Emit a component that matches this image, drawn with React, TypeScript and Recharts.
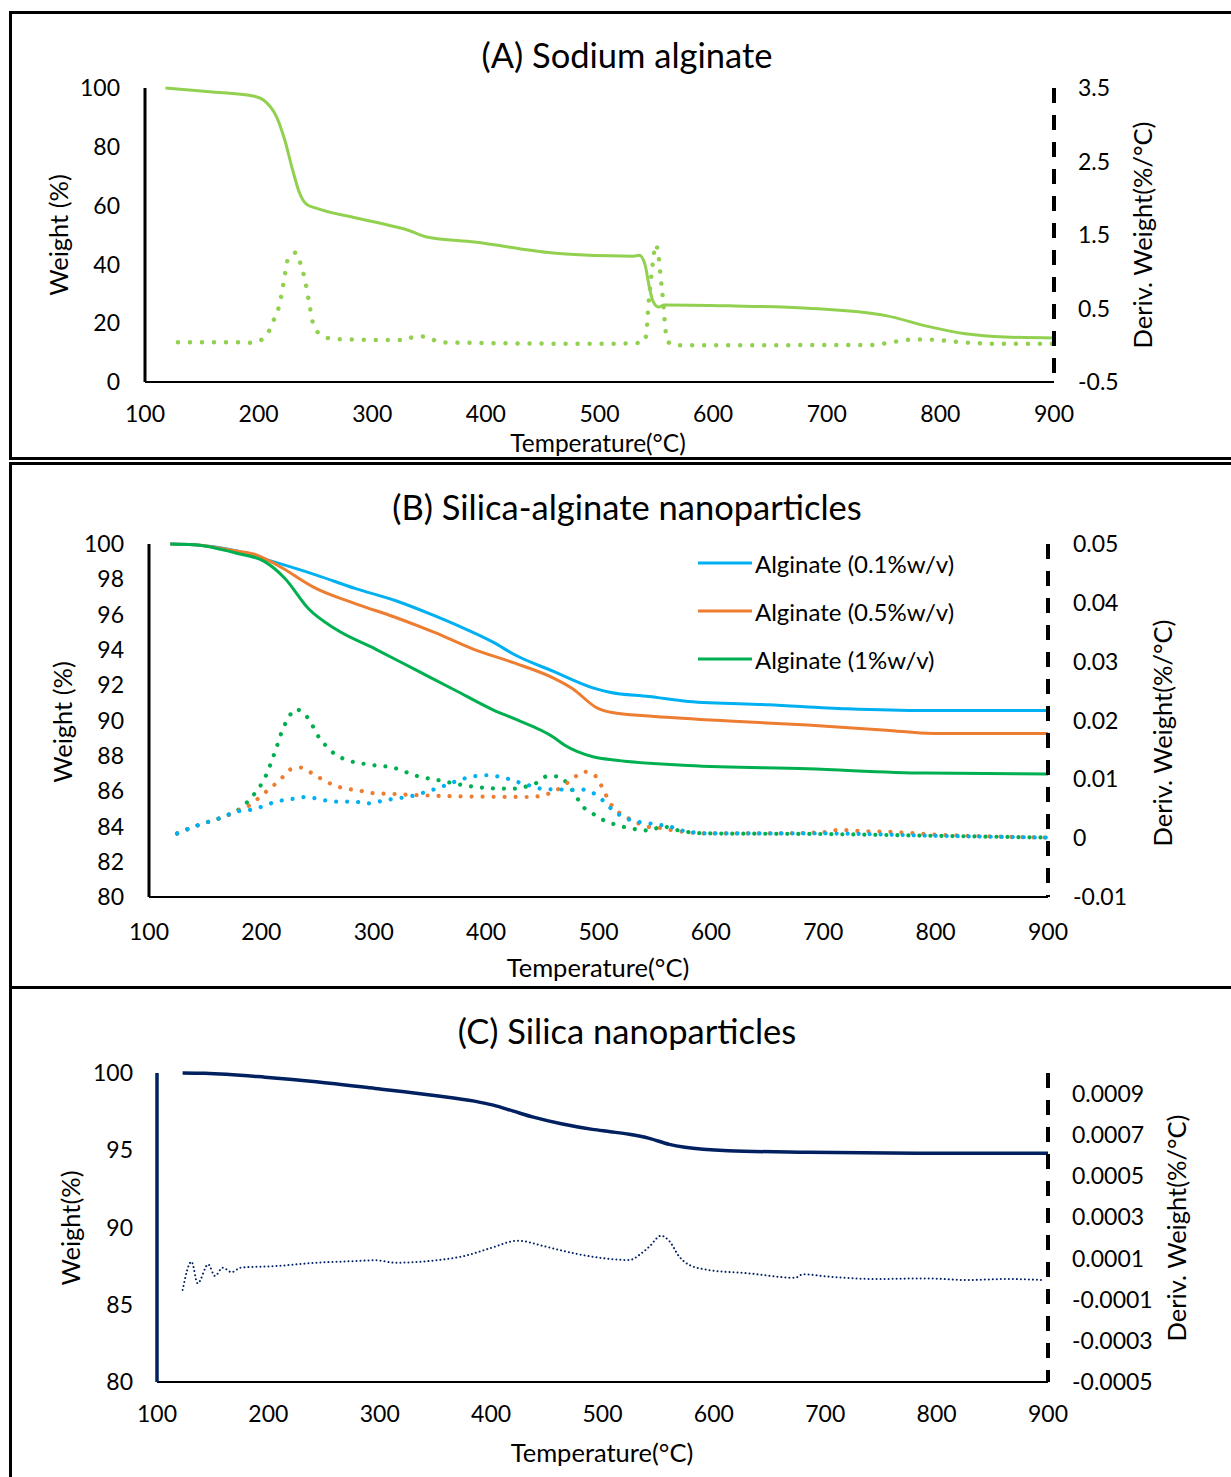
import React from "react";
import { ComposedChart, Line, XAxis, YAxis, Legend } from "recharts";

const FONT = "Lato, 'Gill Sans', 'Noto Sans', sans-serif";

// x axis
const tempTicks = [100, 200, 300, 400, 500, 600, 700, 800, 900];

// (A) sodium alginate
const aWeightT = [118, 157, 195, 204, 216, 223, 230, 236, 242, 250, 286, 320, 331, 348, 390, 459, 509, 530, 535, 540, 544, 547, 552, 557, 614, 683, 753, 787, 822, 857, 900];
const aWeight = [100, 98.7, 97.3, 96.0, 90.0, 82.3, 72.0, 64.3, 60.5, 59.2, 55.8, 52.8, 51.7, 49.3, 47.6, 43.9, 42.9, 42.8, 43.1, 40.0, 32.0, 27.6, 25.5, 26.2, 25.9, 25.1, 22.5, 19.1, 16.4, 15.3, 15.0];
const aDerivT = [129, 181, 194, 204, 210, 214, 218, 222, 226, 233, 237, 240, 244, 248, 254, 264, 274, 330, 337, 348, 359, 500, 532, 540, 541.5, 543, 545.5, 547.5, 549.5, 552, 554, 556, 558, 560, 567, 740, 760, 778, 798, 812, 836, 860, 900];
const aDeriv = [0.04, 0.04, 0.035, 0.09, 0.22, 0.37, 0.53, 0.85, 1.18, 1.26, 1.1, 0.94, 0.62, 0.29, 0.15, 0.09, 0.08, 0.07, 0.12, 0.12, 0.04, 0.02, 0.03, 0.06, 0.21, 0.53, 0.92, 1.2, 1.37, 1.21, 0.9, 0.6, 0.22, 0.05, 0.0, 0.005, 0.05, 0.08, 0.07, 0.05, 0.025, 0.02, 0.02];
const aLeftTicks = [0, 20, 40, 60, 80, 100];
const aRightTicks = [-0.5, 0.5, 1.5, 2.5, 3.5];

// (B) silica-alginate nanoparticles
const bBlueT = [119, 140, 178, 200, 249, 284, 319, 354, 375, 407, 425, 460, 495, 510, 545, 580, 651, 721, 791, 900];
const bBlue = [100, 99.96, 99.6, 99.2, 98.24, 97.47, 96.8, 95.94, 95.37, 94.41, 93.74, 92.78, 91.85, 91.6, 91.36, 91.08, 90.89, 90.66, 90.56, 90.56];
const bOrangeT = [119, 140, 178, 195, 214, 249, 284, 319, 354, 389, 425, 460, 477, 499, 512, 545, 616, 686, 756, 798, 900];
const bOrange = [100, 99.96, 99.6, 99.4, 98.81, 97.47, 96.61, 95.85, 94.99, 94.03, 93.26, 92.4, 91.8, 90.7, 90.45, 90.25, 89.97, 89.74, 89.45, 89.26, 89.26];
const bGreenT = [119, 140, 178, 203, 221, 242, 266, 302, 337, 372, 407, 425, 460, 470, 495, 516, 580, 686, 791, 900];
const bGreen = [100, 99.96, 99.48, 99.0, 98.05, 96.33, 95.18, 94.03, 92.88, 91.73, 90.58, 90.1, 89.05, 88.6, 87.95, 87.75, 87.45, 87.26, 87.02, 86.97];

const bBlueDT = [125, 145, 166, 177, 187, 198, 208, 218, 229, 240, 250, 261, 272, 283, 294, 304, 315, 326, 337, 347, 357, 368, 378, 389, 399, 410, 421, 432, 442, 452, 463, 474, 484, 495, 504, 512, 521, 530, 542, 553, 563, 574, 600, 700, 800, 900];
const bBlueD = [0.0008, 0.0023, 0.0036, 0.0045, 0.0047, 0.0052, 0.0059, 0.0064, 0.0067, 0.007, 0.0067, 0.0063, 0.0062, 0.0062, 0.0059, 0.0062, 0.0066, 0.0069, 0.0073, 0.0079, 0.0085, 0.0093, 0.01, 0.0105, 0.0107, 0.0105, 0.01, 0.0093, 0.0088, 0.0083, 0.0083, 0.0082, 0.0083, 0.0077, 0.0064, 0.0049, 0.0037, 0.003, 0.0026, 0.0023, 0.002, 0.0013, 0.0008, 0.0008, 0.0004, 0.0001];
const bOrangeDT = [125, 145, 166, 177, 192, 201, 210, 218, 226, 236, 246, 256, 266, 276, 287, 297, 319, 341, 380, 439, 449, 460, 468, 477, 487, 496, 502, 507, 512, 521, 532, 542, 556, 567, 600, 650, 700, 714, 735, 756, 800, 850, 900];
const bOrangeD = [0.0008, 0.0023, 0.0036, 0.0045, 0.0059, 0.0074, 0.0088, 0.0102, 0.0117, 0.012, 0.0109, 0.0098, 0.0089, 0.0084, 0.0081, 0.0077, 0.0075, 0.0073, 0.0071, 0.007, 0.0072, 0.0079, 0.0088, 0.0101, 0.0113, 0.0108, 0.0091, 0.0072, 0.0055, 0.004, 0.0029, 0.002, 0.0017, 0.0013, 0.0008, 0.0008, 0.001, 0.0014, 0.0012, 0.0011, 0.0006, 0.0003, 0.0001];
const bGreenDT = [125, 145, 166, 177, 192, 204, 212, 219, 224, 230, 239, 245, 251, 258, 266, 276, 296, 317, 338, 359, 380, 403, 424, 434, 445, 454, 464, 473, 479, 485, 494, 503, 512, 525, 546, 556, 574, 600, 700, 800, 900];
const bGreenD = [0.0008, 0.0023, 0.0036, 0.0045, 0.0071, 0.0106, 0.0146, 0.0185, 0.0204, 0.0219, 0.021, 0.0193, 0.0172, 0.0156, 0.0142, 0.0133, 0.0125, 0.012, 0.0106, 0.0098, 0.009, 0.0085, 0.0084, 0.0087, 0.0094, 0.0105, 0.0105, 0.0091, 0.0075, 0.0056, 0.0043, 0.0032, 0.0025, 0.0018, 0.0013, 0.002, 0.0012, 0.0008, 0.0007, 0.0004, 0.0001];
const bLeftTicks = [80, 82, 84, 86, 88, 90, 92, 94, 96, 98, 100];
const bRightTicks = [-0.01, 0, 0.01, 0.02, 0.03, 0.04, 0.05];

// (C) silica nanoparticles
const cWeightT = [123, 143, 197, 243, 296, 349, 385, 402, 420, 438, 463, 491, 507, 524, 542, 560, 574, 613, 684, 790, 900];
const cWeight = [100, 99.98, 99.73, 99.43, 99.0, 98.55, 98.18, 97.92, 97.53, 97.14, 96.71, 96.35, 96.2, 96.03, 95.77, 95.38, 95.19, 94.97, 94.87, 94.8, 94.8];
const cDerivT = [123, 131, 136.5, 146, 152, 159, 167, 175, 207, 243, 278, 296, 314, 349, 377, 399, 424, 449, 474, 502, 524, 535, 542, 552.5, 560, 569, 578, 595, 630, 673, 680, 702, 745, 791, 827, 862, 896];
const cDeriv = [-0.000053, 0.000084, -0.000021, 0.000071, 0.000015, 0.000055, 0.000033, 0.000055, 0.000063, 0.000079, 0.000087, 0.000091, 0.000079, 0.00009, 0.000113, 0.000149, 0.000186, 0.000157, 0.000125, 0.0001, 0.000092, 0.000125, 0.000157, 0.00021, 0.000184, 0.000108, 0.000068, 0.000044, 0.000028, 0.000006, 0.000023, 0.000012, 0.0, 0.000003, -0.000005, 0.0, -0.000005];
const cLeftTicks = [80, 85, 90, 95, 100];
const cRightTicks = [-0.0005, -0.0003, -0.0001, 0.0001, 0.0003, 0.0005, 0.0007, 0.0009];

const pts = (t: number[], v: number[]) => t.map((x, i) => ({ t: x, v: v[i] }));

const tickStyle = { fill: "#000", fontSize: 23, fontFamily: FONT };
const dashedAxis = { stroke: "#000", strokeWidth: 4, strokeDasharray: "15 12" };

function AxisTitle({ tx, ty, text, vertical, size = 25.5 }: { tx: number; ty: number; text: string; vertical?: boolean; size?: number }) {
  return (
    <text
      x={tx}
      y={ty}
      textAnchor="middle"
      fontSize={size}
      fontFamily={FONT}
      fill="#000"
      transform={vertical ? `rotate(-90 ${tx} ${ty})` : undefined}
    >
      {text}
    </text>
  );
}

function PanelTitle({ top, text }: { top: number; text: string }) {
  return (
    <div
      style={{
        position: "absolute",
        left: 0,
        width: 1254,
        top,
        textAlign: "center",
        fontFamily: FONT,
        fontSize: 34.5,
        lineHeight: "38px",
        color: "#000",
      }}
    >
      {text}
    </div>
  );
}

const renderLegend = (props: any) => {
  const items = (props.payload || []).filter((p: any) => p.type !== "none");
  return (
    <div style={{ fontFamily: FONT, fontSize: 24, color: "#000" }}>
      {items.map((p: any) => (
        <div key={p.value} style={{ display: "flex", alignItems: "center", height: 48 }}>
          <svg width={56} height={6} style={{ marginRight: 1 }}>
            <line x1={0} y1={3} x2={54} y2={3} stroke={p.color} strokeWidth={3} />
          </svg>
          <span>{p.value}</span>
        </div>
      ))}
    </div>
  );
};

function ChartA() {
  return (
    <ComposedChart width={1231} height={460} margin={{ top: 88, left: 65, right: 77, bottom: 8 }}>
      <XAxis
        dataKey="t"
        type="number"
        domain={[100, 900]}
        ticks={tempTicks}
        height={70}
        tickSize={0}
        tickMargin={24}
        tick={tickStyle}
        axisLine={{ stroke: "#000", strokeWidth: 2 }}
        label={<AxisTitle tx={598} ty={452} size={24.5} text="Temperature(°C)" />}
      />
      <YAxis
        yAxisId="w"
        domain={[0, 100]}
        ticks={aLeftTicks}
        width={80}
        tickSize={0}
        tickMargin={25}
        tick={tickStyle}
        axisLine={{ stroke: "#000", strokeWidth: 3 }}
        label={<AxisTitle tx={68} ty={235} text="Weight (%)" vertical />}
      />
      <YAxis
        yAxisId="d"
        orientation="right"
        domain={[-0.5, 3.5]}
        ticks={aRightTicks}
        width={100}
        tickSize={0}
        tickMargin={24}
        tick={{ ...tickStyle, textAnchor: "start" }}
        axisLine={dashedAxis}
        label={<AxisTitle tx={1152} ty={235} text="Deriv. Weight(%/°C)" vertical />}
      />
      <Line
        yAxisId="w"
        data={pts(aWeightT, aWeight)}
        dataKey="v"
        type="monotone"
        stroke="#92D050"
        strokeWidth={3}
        dot={false}
        activeDot={false}
        isAnimationActive={false}
      />
      <Line
        yAxisId="d"
        data={pts(aDerivT, aDeriv)}
        dataKey="v"
        type="monotone"
        stroke="#92D050"
        strokeWidth={4.5}
        strokeDasharray="0.01 12"
        strokeLinecap="round"
        dot={false}
        activeDot={false}
        isAnimationActive={false}
      />
    </ComposedChart>
  );
}

function ChartB() {
  const dotted = { strokeWidth: 4.2, strokeDasharray: "0.01 11", strokeLinecap: "round" as const };
  return (
    <ComposedChart width={1231} height={527} margin={{ top: 84, left: 69, right: 83, bottom: 10 }}>
      <XAxis
        dataKey="t"
        type="number"
        domain={[100, 900]}
        ticks={tempTicks}
        height={80}
        tickSize={0}
        tickMargin={27}
        tick={tickStyle}
        axisLine={{ stroke: "#000", strokeWidth: 2 }}
        label={<AxisTitle tx={598} ty={517} text="Temperature(°C)" />}
      />
      <YAxis
        yAxisId="w"
        domain={[80, 100]}
        ticks={bLeftTicks}
        width={80}
        tickSize={0}
        tickMargin={25}
        tick={tickStyle}
        axisLine={{ stroke: "#000", strokeWidth: 3 }}
        label={<AxisTitle tx={72} ty={262} text="Weight (%)" vertical />}
      />
      <YAxis
        yAxisId="d"
        orientation="right"
        domain={[-0.01, 0.05]}
        ticks={bRightTicks}
        width={100}
        tickSize={0}
        tickMargin={25}
        tick={{ ...tickStyle, textAnchor: "start" }}
        axisLine={dashedAxis}
        label={<AxisTitle tx={1172} ty={273} text="Deriv. Weight(%/°C)" vertical />}
      />
      <Legend
        layout="vertical"
        align="center"
        verticalAlign="middle"
        wrapperStyle={{ left: 698, top: 79, width: 300 }}
        content={renderLegend}
      />
      <Line yAxisId="d" legendType="none" data={pts(bGreenDT, bGreenD)} dataKey="v" type="monotone" stroke="#00B050" {...dotted} dot={false} activeDot={false} isAnimationActive={false} />
      <Line yAxisId="d" legendType="none" data={pts(bOrangeDT, bOrangeD)} dataKey="v" type="monotone" stroke="#ED7D31" {...dotted} dot={false} activeDot={false} isAnimationActive={false} />
      <Line yAxisId="d" legendType="none" data={pts(bBlueDT, bBlueD)} dataKey="v" type="monotone" stroke="#00B0F0" {...dotted} dot={false} activeDot={false} isAnimationActive={false} />
      <Line yAxisId="w" name="Alginate (0.1%w/v)" data={pts(bBlueT, bBlue)} dataKey="v" type="monotone" stroke="#00B0F0" strokeWidth={3} dot={false} activeDot={false} isAnimationActive={false} />
      <Line yAxisId="w" name="Alginate (0.5%w/v)" data={pts(bOrangeT, bOrange)} dataKey="v" type="monotone" stroke="#ED7D31" strokeWidth={3} dot={false} activeDot={false} isAnimationActive={false} />
      <Line yAxisId="w" name="Alginate (1%w/v)" data={pts(bGreenT, bGreen)} dataKey="v" type="monotone" stroke="#00B050" strokeWidth={3} dot={false} activeDot={false} isAnimationActive={false} />
    </ComposedChart>
  );
}

function ChartC() {
  return (
    <ComposedChart width={1231} height={490} margin={{ top: 86, left: 77, right: 73, bottom: 15 }}>
      <XAxis
        dataKey="t"
        type="number"
        domain={[100, 900]}
        ticks={tempTicks}
        height={80}
        tickSize={0}
        tickMargin={24}
        tick={tickStyle}
        axisLine={{ stroke: "#000", strokeWidth: 2 }}
        label={<AxisTitle tx={602} ty={475} text="Temperature(°C)" />}
      />
      <YAxis
        yAxisId="w"
        domain={[80, 100]}
        ticks={cLeftTicks}
        width={80}
        tickSize={0}
        tickMargin={24}
        tick={tickStyle}
        axisLine={{ stroke: "#002060", strokeWidth: 3.5 }}
        label={<AxisTitle tx={80} ty={241} text="Weight(%)" vertical />}
      />
      <YAxis
        yAxisId="d"
        orientation="right"
        domain={[-0.0005, 0.001]}
        ticks={cRightTicks}
        width={110}
        tickSize={0}
        tickMargin={24}
        tick={{ ...tickStyle, textAnchor: "start" }}
        axisLine={dashedAxis}
        label={<AxisTitle tx={1186} ty={241} text="Deriv. Weight(%/°C)" vertical />}
      />
      <Line
        yAxisId="w"
        data={pts(cWeightT, cWeight)}
        dataKey="v"
        type="monotone"
        stroke="#002060"
        strokeWidth={3.5}
        dot={false}
        activeDot={false}
        isAnimationActive={false}
      />
      <Line
        yAxisId="d"
        data={pts(cDerivT, cDeriv)}
        dataKey="v"
        type="monotone"
        stroke="#002060"
        strokeWidth={2}
        strokeDasharray="0.01 4"
        strokeLinecap="round"
        dot={false}
        activeDot={false}
        isAnimationActive={false}
      />
    </ComposedChart>
  );
}

const box = (top: number, height: number): React.CSSProperties => ({
  position: "absolute",
  left: 9,
  top,
  width: 1240,
  height,
  border: "3px solid #000",
  boxSizing: "border-box",
});

export default function App() {
  return (
    <div
      style={{
        position: "absolute",
        left: 0,
        top: 0,
        width: 1231,
        height: 1477,
        overflow: "hidden",
        background: "#fff",
      }}
    >
      <div style={box(11, 449)} />
      <div style={box(462, 527)} />
      <div style={box(986, 520)} />
      <div style={{ position: "absolute", left: 0, top: 0 }}>
        <ChartA />
      </div>
      <div style={{ position: "absolute", left: 0, top: 460 }}>
        <ChartB />
      </div>
      <div style={{ position: "absolute", left: 0, top: 987 }}>
        <ChartC />
      </div>
      <PanelTitle top={36} text="(A) Sodium alginate" />
      <PanelTitle top={488} text="(B) Silica-alginate nanoparticles" />
      <PanelTitle top={1012} text="(C) Silica nanoparticles" />
    </div>
  );
}
